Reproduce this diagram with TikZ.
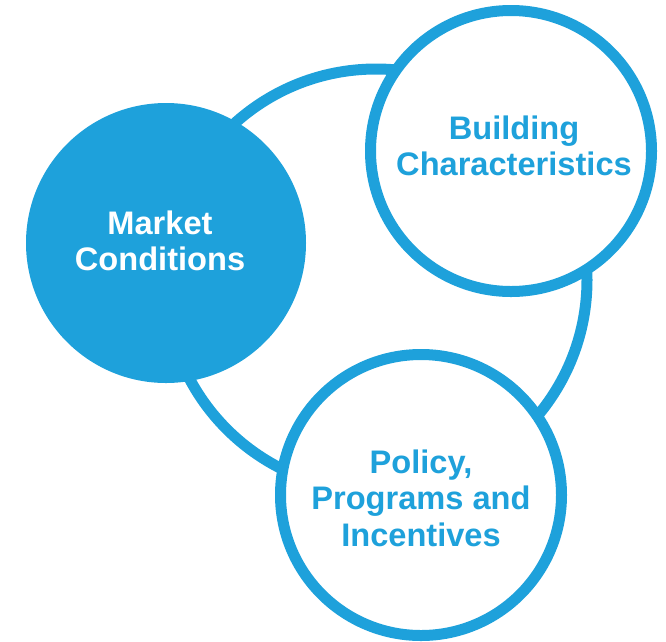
\documentclass[tikz,border=0pt]{standalone}
\usepackage{fontspec}
\setmainfont{Liberation Sans}
\definecolor{cblue}{RGB}{30,161,219}
\begin{document}
\begin{tikzpicture}[x=1pt,y=-1pt,
  ringshape/.style={circle, draw=cblue, line width=11pt, minimum size=422pt, inner sep=0pt},
  filledbub/.style={circle, fill=cblue, minimum size=280pt, inner sep=0pt},
  openbub/.style={circle, draw=cblue, fill=white, line width=11pt, minimum size=281pt, inner sep=0pt},
  lbl/.style={align=center, font=\fontsize{32.6}{36.5}\selectfont\bfseries, inner sep=0pt}]
\useasboundingbox (0,0) rectangle (666,641);
\node[ringshape] (ring) at (376,280) {};
\node[filledbub] (market) at (166,243) {};
\node[openbub] (building) at (511,151) {};
\node[openbub] (policy) at (421,495) {};
\node[lbl, text=white] (marketlbl) at (160,241) {Market\\Conditions};
\node[lbl, text=cblue] (buildinglbl) at (514,146) {Building\\Characteristics};
\node[lbl, text=cblue] (policylbl) at (421,498) {Policy,\\Programs and\\Incentives};
\end{tikzpicture}
\end{document}
